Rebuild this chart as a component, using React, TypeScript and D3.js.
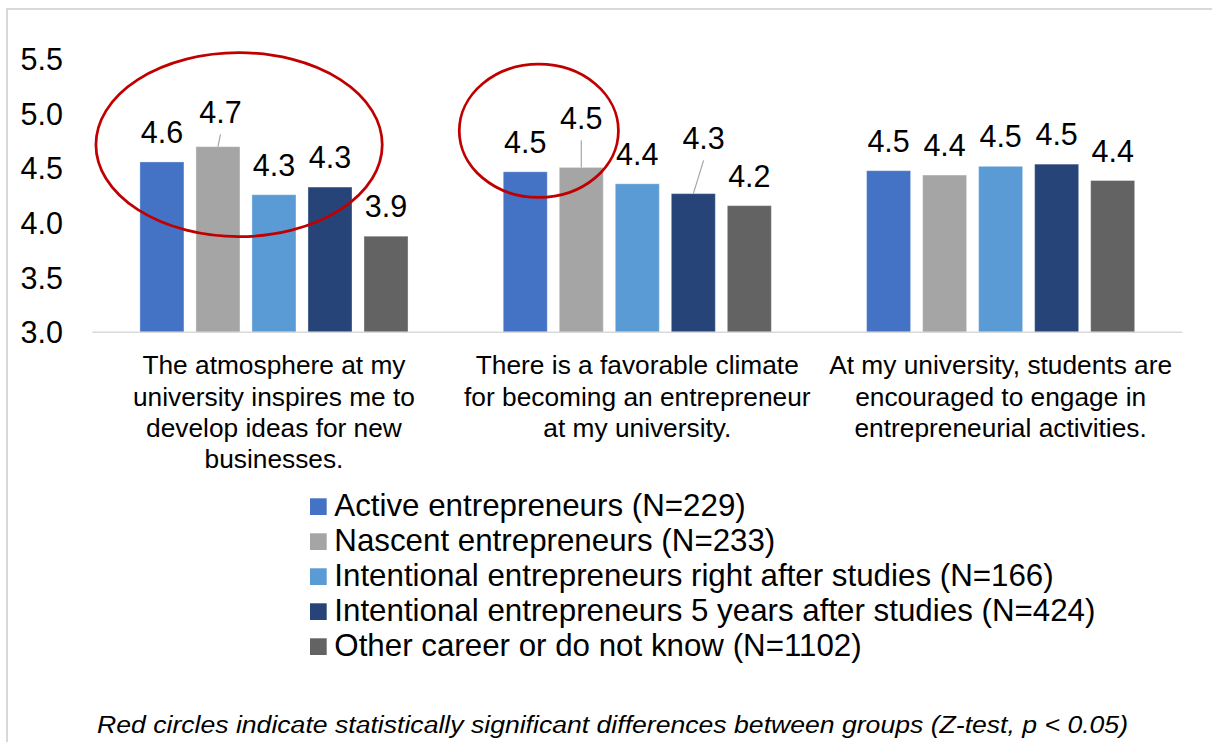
import * as d3 from 'd3';

// categories (wrapped as in the original)
const categories = [
  ['The atmosphere at my', 'university inspires me to', 'develop ideas for new', 'businesses.'],
  ['There is a favorable climate', 'for becoming an entrepreneur', 'at my university.'],
  ['At my university, students are', 'encouraged to engage in', 'entrepreneurial activities.'],
];

const seriesNames = [
  'Active entrepreneurs (N=229)',
  'Nascent entrepreneurs (N=233)',
  'Intentional entrepreneurs right after studies (N=166)',
  'Intentional entrepreneurs 5 years after studies (N=424)',
  'Other career or do not know (N=1102)',
];

// values per series, one per category
const active = [4.56, 4.47, 4.48];
const nascent = [4.7, 4.51, 4.44];
const rightAfter = [4.26, 4.36, 4.52];
const fiveYears = [4.33, 4.27, 4.54];
const other = [3.88, 4.16, 4.39];
const seriesValues = [active, nascent, rightAfter, fiveYears, other];

const yTicks = [3.0, 3.5, 4.0, 4.5, 5.0, 5.5];

// significance circles: category, band fraction span, value span
const sigCircles = [
  { cat: 0, f0: 0.01, f1: 0.798, vTop: 5.56, vBottom: 3.876 },
  { cat: 1, f0: 0.01, f1: 0.448, vTop: 5.455, vBottom: 4.235 },
];

const footnote = 'Red circles indicate statistically significant differences between groups (Z-test, p < 0.05)';

const colors = ['#4472C4', '#A5A5A5', '#5B9BD5', '#264478', '#636363'];
// label nudges for data labels that got moved off their default spot
const nudges: Record<string, { dx: number; dy: number }> = {
  '0-1': { dx: 2.5, dy: -4.7 },
  '1-1': { dx: 0, dy: -19.7 },
  '1-3': { dx: 10.3, dy: -25.7 },
};

const W = 1212;
const H = 742;
const FONT = '"Liberation Sans", Arial, sans-serif';

export default function App() {
  const x0 = d3.scaleBand<number>().domain(d3.range(categories.length)).range([92.3, 1182.3]);
  const x1 = d3
    .scaleBand<number>()
    .domain(d3.range(seriesNames.length))
    .range([0, x0.bandwidth()])
    .paddingInner(0.214)
    .paddingOuter(0.85);
  const y = d3.scaleLinear().domain([3, 5.5]).range([332.3, 59.3]);
  const fmt = d3.format('.1f');

  const bars = categories.flatMap((_, ci) =>
    seriesValues.map((vals, si) => {
      const bx = (x0(ci) ?? 0) + (x1(si) ?? 0);
      const v = vals[ci];
      return { ci, si, bx, v, top: y(v) };
    }),
  );

  return (
    <div style={{ position: 'absolute', left: 0, top: 0 }}>
      <svg width={W} height={H} style={{ display: 'block', background: '#fff' }} fontFamily={FONT}>
        {/* frame */}
        <rect x={7} y={9} width={W + 10} height={H + 10} fill="none" stroke="#d9d9d9" strokeWidth={2} />

        {/* y tick labels */}
        {yTicks.map((t) => (
          <text key={t} x={63} y={y(t)} dy="0.36em" textAnchor="end" fontSize={30.5} fill="#000">
            {fmt(t)}
          </text>
        ))}

        {/* bars */}
        {bars.map((b) => (
          <rect
            key={`${b.ci}-${b.si}`}
            x={b.bx}
            y={b.top}
            width={x1.bandwidth()}
            height={y(3) - b.top}
            fill={colors[b.si]}
            stroke="#ffffff"
            strokeOpacity={0.35}
            strokeWidth={1}
          />
        ))}

        {/* category axis */}
        <line x1={92.3} x2={1182.3} y1={y(3)} y2={y(3)} stroke="#d9d9d9" strokeWidth={1.5} />

        {/* data labels with leader lines */}
        {bars.map((b) => {
          const cx = b.bx + x1.bandwidth() / 2;
          const n = nudges[`${b.ci}-${b.si}`];
          const lx = cx + (n ? n.dx : 0);
          const ly = b.top - 19 + (n ? n.dy : 0);
          return (
            <g key={`l-${b.ci}-${b.si}`}>
              {n && (
                <line x1={lx} y1={ly + 11.5} x2={cx} y2={b.top} stroke="#a6a6a6" strokeWidth={1.2} />
              )}
              <text x={lx} y={ly} textAnchor="middle" fontSize={30.5} fill="#000">
                {fmt(b.v)}
              </text>
            </g>
          );
        })}

        {/* significance ellipses */}
        {sigCircles.map((c, i) => {
          const bx = x0(c.cat) ?? 0;
          const left = bx + c.f0 * x0.bandwidth();
          const right = bx + c.f1 * x0.bandwidth();
          const top = y(c.vTop);
          const bottom = y(c.vBottom);
          return (
            <ellipse
              key={i}
              cx={(left + right) / 2}
              cy={(top + bottom) / 2}
              rx={(right - left) / 2}
              ry={(bottom - top) / 2}
              fill="none"
              stroke="#C00000"
              strokeWidth={2.75}
            />
          );
        })}

        {/* category labels */}
        {categories.map((lines, ci) => (
          <text
            key={ci}
            x={(x0(ci) ?? 0) + x0.bandwidth() / 2}
            y={374.4}
            textAnchor="middle"
            fontSize={26.3}
            fill="#000"
          >
            {lines.map((l, li) => (
              <tspan key={li} x={(x0(ci) ?? 0) + x0.bandwidth() / 2} dy={li === 0 ? 0 : 31.3}>
                {l}
              </tspan>
            ))}
          </text>
        ))}

        {/* legend */}
        {seriesNames.map((name, si) => (
          <g key={name} transform={`translate(310, ${515.7 + si * 35})`}>
            <rect x={0} y={-17.4} width={16.7} height={16.7} fill={colors[si]} />
            <text x={24.3} y={0} fontSize={31.3} fill="#000">
              {name}
            </text>
          </g>
        ))}

        {/* footnote */}
        <text
          x={612.5}
          y={733.3}
          textAnchor="middle"
          fontSize={23}
          fontStyle="italic"
          fill="#000"
          textLength={1031}
          lengthAdjust="spacingAndGlyphs"
        >
          {footnote}
        </text>
      </svg>
    </div>
  );
}
